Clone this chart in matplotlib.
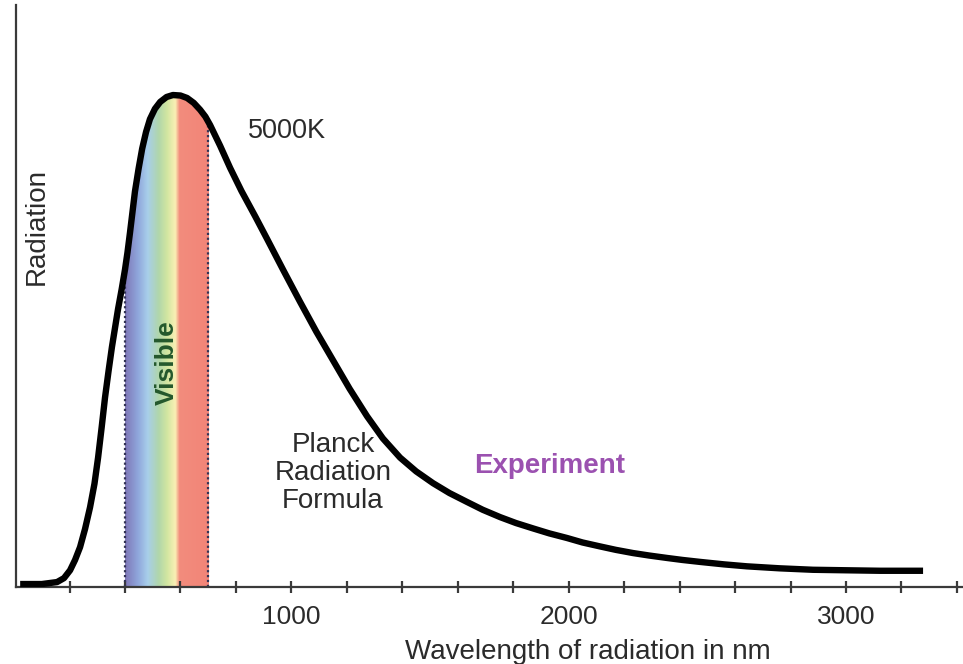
import numpy as np
import matplotlib
matplotlib.use("Agg")
import matplotlib.pyplot as plt
from matplotlib.colors import LinearSegmentedColormap

plt.rcParams['font.family'] = ['Liberation Sans', 'DejaVu Sans']

# curve (relative radiation, peak = 1)
wavelength_nm = [22, 100, 155, 180, 202, 220, 238, 256, 274, 290, 303, 316, 328,
                 341, 353, 365, 375, 388, 400, 409, 418, 427, 436, 449, 462, 476,
                 490, 508, 527, 550, 573, 600, 624, 648, 671, 690, 707, 743, 779,
                 820, 870, 912, 970, 1031, 1090, 1150, 1210, 1273, 1330, 1392,
                 1450, 1511, 1570, 1633, 1690, 1753, 1810, 1872, 1930, 1994, 2050,
                 2113, 2170, 2232, 2290, 2355, 2410, 2474, 2560, 2643, 2760, 2881,
                 3000, 3123, 3278]
radiation = [0.006, 0.006, 0.010, 0.018, 0.034, 0.055, 0.081, 0.118, 0.162, 0.21,
             0.263, 0.325, 0.385, 0.44, 0.488, 0.53, 0.565, 0.605, 0.645, 0.68,
             0.72, 0.762, 0.804, 0.85, 0.891, 0.925, 0.951, 0.972, 0.986, 0.996,
             1.0, 0.999, 0.994, 0.984, 0.970, 0.956, 0.939, 0.897, 0.852, 0.805,
             0.753, 0.708, 0.645, 0.58, 0.519, 0.461, 0.403, 0.347, 0.302, 0.263,
             0.235, 0.211, 0.191, 0.173, 0.157, 0.142, 0.130, 0.119, 0.109, 0.0996,
             0.0905, 0.0825, 0.0755, 0.069, 0.064, 0.059, 0.055, 0.051, 0.046,
             0.042, 0.038, 0.035, 0.034, 0.033, 0.033]

visible_range = [400, 700]
tick_positions = list(range(200, 3401, 200))
tick_labels = ['1000', '2000', '3000']

txt = '#2b2b2b'

fig = plt.figure(figsize=(9.63, 6.64), dpi=100)
ax = fig.add_axes([16/963, 77/664, 947/963, 582/664])

# spectrum gradient inside the visible band, clipped by the area under the curve
stops = [(0.00, (0.50, 0.47, 0.72)),
         (0.15, (0.56, 0.65, 0.86)),
         (0.27, (0.66, 0.81, 0.92)),
         (0.40, (0.69, 0.84, 0.67)),
         (0.50, (0.82, 0.90, 0.63)),
         (0.60, (0.98, 0.94, 0.71)),
         (0.65, (0.95, 0.55, 0.49)),
         (1.00, (0.95, 0.52, 0.47))]
cmap = LinearSegmentedColormap.from_list('vis', stops)
grad = np.linspace(0, 1, 300).reshape(1, -1)
img = ax.imshow(grad, cmap=cmap, aspect='auto',
                extent=[visible_range[0], visible_range[1], 0, 1.05], zorder=1)
area = ax.fill_between(wavelength_nm, radiation, 0, color='none', lw=0)
clip = area.get_paths()[0]
img.set_clip_path(clip, transform=ax.transData)

for v in visible_range:
    ln = ax.axvline(v, color='#333355', ls=(0, (1, 1.2)), lw=1.6, zorder=2)
    ln.set_clip_path(clip, transform=ax.transData)

ax.plot(wavelength_nm, radiation, color='black', lw=4.6,
        solid_capstyle='butt', solid_joinstyle='round', zorder=3)

ax.set_xlim(7, 3422)
ax.set_ylim(0, 1.183)

for s in ['top', 'right']:
    ax.spines[s].set_visible(False)
for s in ['left', 'bottom']:
    ax.spines[s].set_color('#3a3a3a')
    ax.spines[s].set_linewidth(1.6)

ax.set_yticks([])
ax.set_xticks(tick_positions)
ax.set_xticklabels([str(t) if str(t) in tick_labels else '' for t in tick_positions])
ax.tick_params(axis='x', direction='inout', length=9, width=1.6, color='#3a3a3a',
               labelsize=19, labelcolor=txt, pad=8.5)

ax.set_xlabel('Wavelength of radiation in nm', fontsize=20, color=txt)
ax.xaxis.set_label_coords((588 - 16) / 947, -(639 - 587) / 582)

ax.text(83, 0.732, 'Radiation', rotation=90, fontsize=20, color=txt,
        ha='center', va='center')
ax.text(552, 0.457, 'Visible', rotation=90, fontsize=19, color='#24582c',
        fontweight='bold', ha='center', va='center', zorder=4)
ax.text(845, 0.927, '5000K', fontsize=19.5, color=txt, ha='left', va='center')
ax.text(1150, 0.232, 'Planck\nRadiation\nFormula', fontsize=20, color=txt,
        ha='center', va='center', multialignment='center', linespacing=1.1)
ax.text(1933, 0.246, 'Experiment', fontsize=20, color='#9b51b0',
        fontweight='bold', ha='center', va='center')

fig.savefig('out.png', dpi=100)
